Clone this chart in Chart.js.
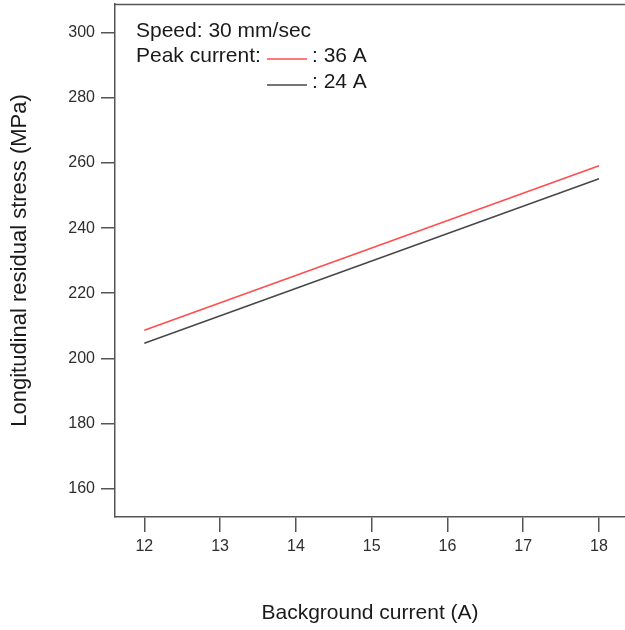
<!DOCTYPE html>
<html>
<head>
<meta charset="utf-8">
<script src="https://cdn.jsdelivr.net/npm/chart.js@4/dist/chart.umd.min.js"></script>
<style>
  html, body { margin: 0; padding: 0; background: #ffffff; }
  #wrap { width: 625px; height: 630px; position: relative; }
  canvas { display: block; }
</style>
</head>
<body>
<div id="wrap"><canvas id="c" width="625" height="630"></canvas></div>
<script>
// ---- Data ----
const backgroundCurrent = [12, 18];          // A
const stressPeak36 = [208.6, 259.2];         // MPa, peak current 36 A
const stressPeak24 = [204.6, 255.2];         // MPa, peak current 24 A
const xTickValues = [12, 13, 14, 15, 16, 17, 18];
const yTickValues = [160, 180, 200, 220, 240, 260, 280, 300];
const seriesLabels = [': 36 A', ': 24 A'];
const legendTitle = 'Speed: 30 mm/sec';
const legendPrefix = 'Peak current:';
const xTitle = 'Background current (A)';
const yTitle = 'Longitudinal residual stress (MPa)';

const FONT = '"Liberation Sans", Arial, sans-serif';
const colors = ['#ff4d4d', '#474747'];

function toPoints(xs, ys) { return xs.map((x, i) => ({ x: x, y: ys[i] })); }

const legendPlugin = {
  id: 'customLegend',
  afterDraw(chart) {
    const ctx = chart.ctx;
    const area = chart.chartArea;
    ctx.save();
    // top frame line
    ctx.strokeStyle = '#555555';
    ctx.lineWidth = 1.5;
    ctx.beginPath();
    ctx.moveTo(area.left, area.top + 0.5);
    ctx.lineTo(area.right, area.top + 0.5);
    ctx.stroke();

    ctx.font = '21px ' + FONT;
    ctx.fillStyle = '#1a1a1a';
    ctx.textBaseline = 'alphabetic';
    ctx.textAlign = 'left';
    const x0 = area.left + 21;
    ctx.fillText(legendTitle, x0, 37);
    ctx.fillText(legendPrefix, x0, 62);
    const rows = [62, 88];
    chart.data.datasets.forEach((ds, i) => {
      const y = rows[i];
      ctx.strokeStyle = ds.borderColor;
      ctx.lineWidth = 1.5;
      ctx.beginPath();
      ctx.moveTo(267, y - 3);
      ctx.lineTo(307, y - 3);
      ctx.stroke();
      ctx.fillStyle = '#1a1a1a';
      ctx.fillText(ds.label, 312, y);
    });
    ctx.restore();
  }
};

new Chart(document.getElementById('c'), {
  type: 'line',
  data: {
    datasets: [
      { label: seriesLabels[0], data: toPoints(backgroundCurrent, stressPeak36), borderColor: colors[0], borderWidth: 1.5, pointRadius: 0, fill: false, tension: 0 },
      { label: seriesLabels[1], data: toPoints(backgroundCurrent, stressPeak24), borderColor: colors[1], borderWidth: 1.5, pointRadius: 0, fill: false, tension: 0 }
    ]
  },
  options: {
    responsive: false,
    animation: false,
    devicePixelRatio: 1,
    layout: { padding: { top: 4, right: 0, left: 0, bottom: 0 } },
    plugins: { legend: { display: false }, tooltip: { enabled: false } },
    scales: {
      x: {
        type: 'linear',
        min: 11.613,
        max: 18.343,
        afterBuildTicks(scale) { scale.ticks = xTickValues.map(v => ({ value: v })); },
        afterFit(scale) { scale.height = 113; scale.paddingLeft = 0; scale.paddingRight = 0; },
        grid: { display: true, drawOnChartArea: false, drawTicks: true, tickLength: 15, color: '#555555', lineWidth: 1.5 },
        border: { display: true, color: '#555555', width: 1.5 },
        ticks: { color: '#2e2e2e', font: { family: FONT, size: 16 }, padding: 5, maxRotation: 0 },
        title: { display: true, text: xTitle, color: '#1a1a1a', font: { family: FONT, size: 21 }, padding: { top: 0, bottom: 4 } }
      },
      y: {
        type: 'linear',
        min: 151.2,
        max: 308.9,
        afterBuildTicks(scale) { scale.ticks = yTickValues.map(v => ({ value: v })); },
        afterFit(scale) { scale.width = 115; scale.paddingTop = 0; scale.paddingBottom = 0; },
        grid: { display: true, drawOnChartArea: false, drawTicks: true, tickLength: 14, color: '#555555', lineWidth: 1.5 },
        border: { display: true, color: '#555555', width: 1.5 },
        ticks: { color: '#2e2e2e', font: { family: FONT, size: 16 }, padding: 6 },
        title: { display: true, text: yTitle, color: '#1a1a1a', font: { family: FONT, size: 22 }, padding: { top: 7, bottom: 0 } }
      }
    }
  },
  plugins: [legendPlugin]
});
</script>
</body>
</html>
